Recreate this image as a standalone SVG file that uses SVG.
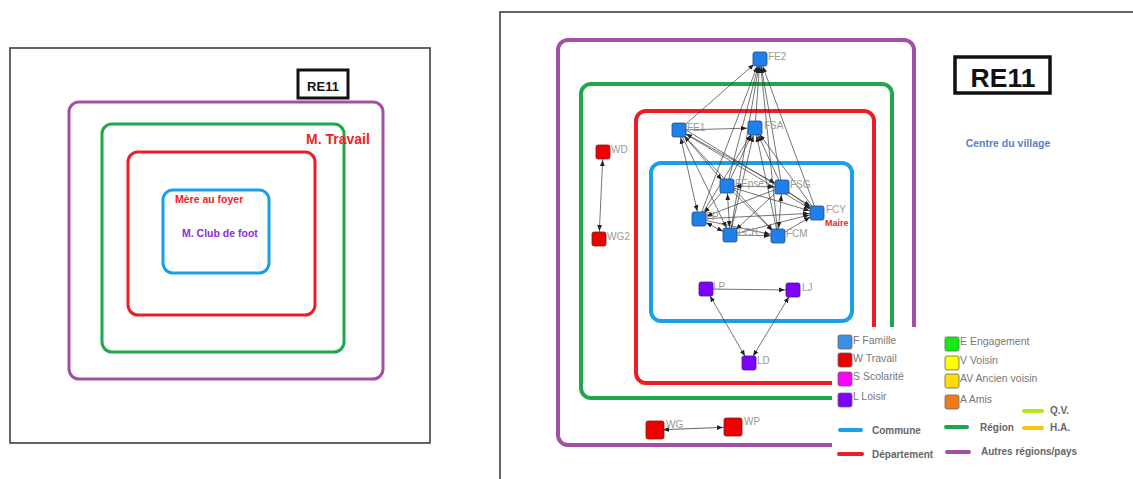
<svg xmlns="http://www.w3.org/2000/svg" width="1133" height="479" viewBox="0 0 1133 479">
<style>
.frame{fill:none;stroke:#333;stroke-width:1.5}
.zp{fill:none;stroke:#a34fa6;rx:10}
.zg{fill:none;stroke:#1fa84a;rx:10}
.zr{fill:none;stroke:#ee1c24;rx:10}
.zb{fill:none;stroke:#1aa0e6;rx:10}
.l3{stroke-width:3}
.l4{stroke-width:4}
.e{stroke:#3a3a3a;stroke-width:0.7;fill:none;marker-end:url(#ah)}
.bi{marker-start:url(#ah)}
.eL{stroke:#3a3a3a;stroke-width:0.8;fill:none;marker-end:url(#ahL)}
.nf{fill:#1e80ea;stroke:#2a4a7a;stroke-width:0.8}
.nw{fill:#ee0000;stroke:#7a2020;stroke-width:0.8}
.nl{fill:#7f00ff;stroke:#40207a;stroke-width:0.8}
.lab{font-family:"Liberation Sans",Arial,sans-serif;font-size:10px;fill:#999}
.leg{font-family:"Liberation Sans",Arial,sans-serif;font-size:10.5px;fill:#777}
.legb{font-family:"Liberation Sans",Arial,sans-serif;font-size:10px;font-weight:bold;fill:#666}
.sq{stroke:#666;stroke-width:0.8}
.ll{stroke-width:4;stroke-linecap:round}
.bold{font-family:"Liberation Sans",Arial,sans-serif;font-weight:bold}
</style>
<defs>
<marker id="ah" viewBox="0 0 6 6" refX="14" refY="3" markerWidth="6" markerHeight="6" markerUnits="userSpaceOnUse" orient="auto-start-reverse"><path d="M0,0.6 L6,3 L0,5.4z" fill="#222"/></marker>
<marker id="ahL" viewBox="0 0 6 6" refX="16" refY="3" markerWidth="6" markerHeight="6" markerUnits="userSpaceOnUse" orient="auto-start-reverse"><path d="M0,0.6 L6,3 L0,5.4z" fill="#222"/></marker>
</defs>
<rect width="1133" height="479" fill="#fff"/>

<!-- Left panel -->
<g id="left-panel">
<rect class="frame" x="10" y="48" width="420" height="395"/>
<rect class="zp l3" x="69" y="102" width="314" height="277"/>
<rect class="zg l3" x="102" y="124" width="242" height="228"/>
<rect class="zr l3" x="128" y="152" width="187" height="163"/>
<rect class="zb l3" x="163" y="190" width="106" height="83"/>
<rect x="298" y="70" width="50" height="28" fill="#fff" stroke="#111" stroke-width="3"/>
<text class="bold" x="323" y="91" font-size="13" text-anchor="middle" fill="#111">RE11</text>
<text class="bold" x="306" y="144" font-size="14" fill="#ee2222">M. Travail</text>
<text class="bold" x="175" y="203" font-size="10.5" fill="#ee2222">Mère au foyer</text>
<text class="bold" x="182" y="237" font-size="10.5" fill="#8a2be2">M. Club de foot</text>
</g>

<!-- Right panel -->
<g id="right-panel">
<path d="M500,479 V12 H1133" fill="none" stroke="#333" stroke-width="1.5"/>
<rect class="zp l4" x="558" y="40" width="356" height="405"/>
<rect class="zg l4" x="581" y="84" width="311" height="314"/>
<rect class="zr l4" x="636" y="111" width="238" height="272"/>
<rect class="zb l4" x="651" y="163" width="201" height="158"/>
<rect x="832" y="327" width="301" height="152" fill="#fff"/>
<rect x="955" y="57" width="95" height="36" fill="#fff" stroke="#111" stroke-width="3.5"/>
<text class="bold" x="1003" y="87" font-size="26.5" text-anchor="middle" fill="#111">RE11</text>
<text class="bold" x="1008" y="147" font-size="10.5" text-anchor="middle" fill="#5b80c4">Centre du village</text>
</g>

<g id="connectors">
<line class="e" x1="679" y1="130" x2="760" y2="59"/>
<line class="e" x1="755" y1="128" x2="760" y2="59"/>
<line class="e" x1="727" y1="186" x2="760" y2="59"/>
<line class="e" x1="782" y1="187" x2="760" y2="59"/>
<line class="e" x1="699" y1="219" x2="760" y2="59"/>
<line class="e" x1="730" y1="235" x2="760" y2="59"/>
<line class="e" x1="778" y1="236" x2="760" y2="59"/>
<line class="e" x1="817" y1="213" x2="760" y2="59"/>
<line class="e" x1="679" y1="130" x2="755" y2="128"/>
<line class="e" x1="727" y1="186" x2="755" y2="128"/>
<line class="e" x1="782" y1="187" x2="755" y2="128"/>
<line class="e" x1="699" y1="219" x2="755" y2="128"/>
<line class="e" x1="730" y1="235" x2="755" y2="128"/>
<line class="e" x1="778" y1="236" x2="755" y2="128"/>
<line class="e" x1="817" y1="213" x2="755" y2="128"/>
<line class="e bi" x1="679" y1="130" x2="727" y2="186"/>
<line class="e bi" x1="679" y1="130" x2="699" y2="219"/>
<line class="e" x1="679" y1="130" x2="730" y2="235"/>
<line class="e" x1="679" y1="130" x2="778" y2="236"/>
<line class="e bi" x1="679" y1="130" x2="782" y2="187"/>
<line class="e" x1="679" y1="130" x2="817" y2="213"/>
<line class="e" x1="681" y1="127" x2="817" y2="210"/>
<line class="e bi" x1="727" y1="186" x2="782" y2="187"/>
<line class="e" x1="727" y1="186" x2="699" y2="219"/>
<line class="e bi" x1="727" y1="186" x2="730" y2="235"/>
<line class="e" x1="727" y1="186" x2="778" y2="236"/>
<line class="e" x1="727" y1="186" x2="817" y2="213"/>
<line class="e" x1="782" y1="187" x2="699" y2="219"/>
<line class="e" x1="782" y1="187" x2="730" y2="235"/>
<line class="e bi" x1="782" y1="187" x2="778" y2="236"/>
<line class="e" x1="782" y1="187" x2="817" y2="213"/>
<line class="e bi" x1="699" y1="219" x2="730" y2="235"/>
<line class="e" x1="699" y1="219" x2="778" y2="236"/>
<line class="e" x1="699" y1="219" x2="817" y2="213"/>
<line class="e" x1="730" y1="235" x2="778" y2="236"/>
<line class="e" x1="730" y1="235" x2="817" y2="213"/>
<line class="e" x1="778" y1="236" x2="817" y2="213"/>
<line class="e bi" x1="603" y1="152" x2="599" y2="239"/>
<line class="e" x1="706" y1="289" x2="793" y2="290"/>
<line class="e bi" x1="706" y1="289" x2="749" y2="363"/>
<line class="e bi" x1="793" y1="290" x2="749" y2="363"/>
<line class="eL bi" x1="655" y1="430" x2="733" y2="427"/>
</g>

<g id="node-FE2"><rect class="nf" x="753" y="52" width="14" height="14" rx="2"/><text class="lab" x="768" y="60">FE2</text></g>
<g id="node-FE1"><rect class="nf" x="672" y="123" width="14" height="14" rx="2"/><text class="lab" x="687" y="131">FE1</text></g>
<g id="node-FSA"><rect class="nf" x="748" y="121" width="14" height="14" rx="2"/><text class="lab" x="764" y="129">FSA</text></g>
<g id="node-FEpse"><rect class="nf" x="720" y="179" width="14" height="14" rx="2"/><text class="lab" x="735" y="187">FEpse</text></g>
<g id="node-FSG"><rect class="nf" x="775" y="180" width="14" height="14" rx="2"/><text class="lab" x="790" y="188">FSG</text></g>
<g id="node-FP"><rect class="nf" x="692" y="212" width="14" height="14" rx="2"/><text class="lab" x="706" y="220">FP</text></g>
<g id="node-FCB"><rect class="nf" x="723" y="228" width="14" height="14" rx="2"/><text class="lab" x="738" y="236">FCB</text></g>
<g id="node-FCM"><rect class="nf" x="771" y="229" width="14" height="14" rx="2"/><text class="lab" x="786" y="237">FCM</text></g>
<g id="node-FCY"><rect class="nf" x="810" y="206" width="14" height="14" rx="2"/><text class="lab" x="826" y="213">FCY</text><text class="bold" x="825" y="226" font-size="9" fill="#ee2222">Maire</text></g>
<g id="node-WD"><rect class="nw" x="596" y="145" width="14" height="14" rx="2"/><text class="lab" x="611" y="153">WD</text></g>
<g id="node-WG2"><rect class="nw" x="592" y="232" width="14" height="14" rx="2"/><text class="lab" x="607" y="240">WG2</text></g>
<g id="node-LP"><rect class="nl" x="699" y="282" width="14" height="14" rx="2"/><text class="lab" x="713" y="290">LP</text></g>
<g id="node-LJ"><rect class="nl" x="786" y="283" width="14" height="14" rx="2"/><text class="lab" x="802" y="291">LJ</text></g>
<g id="node-LD"><rect class="nl" x="742" y="356" width="14" height="14" rx="2"/><text class="lab" x="757" y="364">LD</text></g>
<g id="node-WG"><rect class="nw" x="646" y="421" width="18" height="18" rx="2"/><text class="lab" x="666" y="428">WG</text></g>
<g id="node-WP"><rect class="nw" x="724" y="418" width="18" height="18" rx="2"/><text class="lab" x="744" y="425">WP</text></g>

<g id="legend">
<rect class="sq" x="838" y="335" width="14" height="14" rx="2" fill="#3d8fe6"/><text class="leg" x="853" y="344">F Famille</text>
<rect class="sq" x="838" y="353" width="14" height="14" rx="2" fill="#ee0000"/><text class="leg" x="853" y="362">W Travail</text>
<rect class="sq" x="838" y="372" width="14" height="14" rx="2" fill="#ff00ff"/><text class="leg" x="853" y="380">S Scolarité</text>
<rect class="sq" x="838" y="393" width="14" height="14" rx="2" fill="#7f00ff"/><text class="leg" x="853" y="400">L Loisir</text>
<rect class="sq" x="945" y="337" width="14" height="14" rx="2" fill="#11ee11"/><text class="leg" x="960" y="345">E Engagement</text>
<rect class="sq" x="945" y="356" width="14" height="14" rx="2" fill="#ffff00"/><text class="leg" x="960" y="364">V Voisin</text>
<rect class="sq" x="945" y="374" width="14" height="14" rx="2" fill="#ffdd00"/><text class="leg" x="960" y="382">AV Ancien voisin</text>
<rect class="sq" x="945" y="395" width="14" height="14" rx="2" fill="#f07a1a"/><text class="leg" x="960" y="403">A Amis</text>
<line class="ll" x1="1024" y1="411" x2="1042" y2="411" stroke="#b5e61d"/><text class="legb" x="1050" y="414">Q.V.</text>
<line class="ll" x1="1024" y1="428" x2="1042" y2="428" stroke="#ffc20e"/><text class="legb" x="1050" y="431">H.A.</text>
<line class="ll" x1="840" y1="430" x2="861" y2="430" stroke="#1aa0e6"/><text class="legb" x="872" y="434">Commune</text>
<line class="ll" x1="946" y1="427" x2="967" y2="427" stroke="#1fa84a"/><text class="legb" x="980" y="431">Région</text>
<line class="ll" x1="839" y1="454" x2="862" y2="454" stroke="#ee1c24"/><text class="legb" x="872" y="458">Département</text>
<line class="ll" x1="947" y1="452" x2="969" y2="452" stroke="#a34fa6"/><text class="legb" x="981" y="455">Autres régions/pays</text>
</g>
</svg>
